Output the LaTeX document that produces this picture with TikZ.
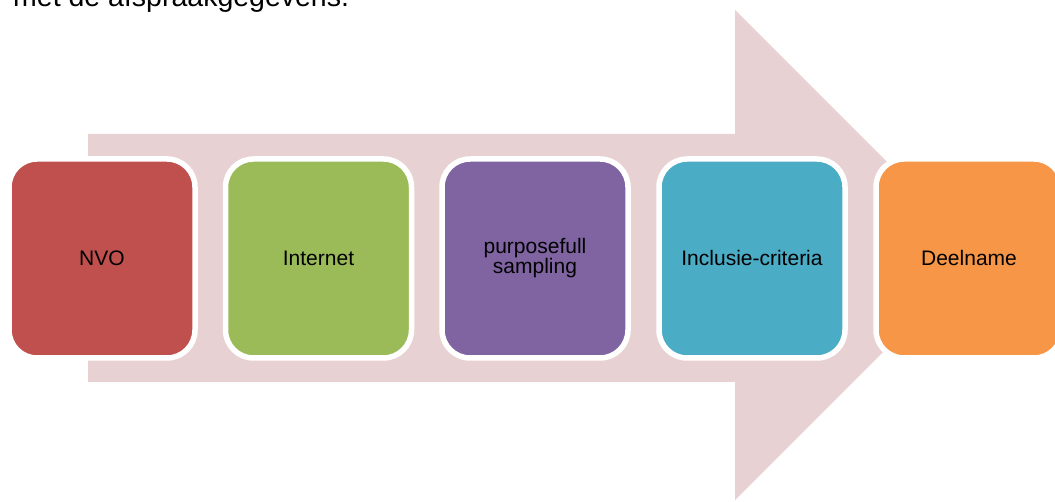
\documentclass[tikz,border=0pt]{standalone}
\usepackage{fontspec}
\setmainfont{Liberation Sans}
\definecolor{arrowpink}{HTML}{E8D1D2}
\definecolor{boxred}{HTML}{C0504D}
\definecolor{boxgreen}{HTML}{9BBB59}
\definecolor{boxpurple}{HTML}{8064A2}
\definecolor{boxblue}{HTML}{4BACC6}
\definecolor{boxorange}{HTML}{F79646}

\begin{document}
\begin{tikzpicture}[x=1pt,y=1pt]
  % 定义样式
  \tikzset{stage/.style = {rectangle, rounded corners=28pt, draw=white, line width=5.5pt,
      minimum width=186pt, minimum height=199pt, inner sep=0pt, align=center,
      font=\fontsize{21}{20}\selectfont}}
  \tikzset{bigarrow/.style = {fill=arrowpink}}

  \useasboundingbox (0,0) rectangle (1055,502);
  \clip (0,0) rectangle (1055,502);

  % 上一行文字
  \node[anchor=base west, inner sep=0pt, font=\fontsize{28.5}{32}\selectfont] (prev) at (13,495) {met de afspraakgegevens.};

  % 背景箭头
  \fill[bigarrow] (88,120) -- (88,368) -- (735,368) -- (735,492)
    -- (980,247) -- (735,2) -- (735,120) -- cycle;

  % 定义方块
  \node[stage, fill=boxred] (nvo) at (102,243.5) {NVO};
  \node[stage, fill=boxgreen] (internet) at (318.5,243.5) {Internet};
  \node[stage, fill=boxpurple] (sampling) at (535,243.5) {purposefull\\sampling};
  \node[stage, fill=boxblue] (criteria) at (752,243.5) {Inclusie-criteria};
  \node[stage, fill=boxorange] (deelname) at (969,243.5) {Deelname};
\end{tikzpicture}
\end{document}
